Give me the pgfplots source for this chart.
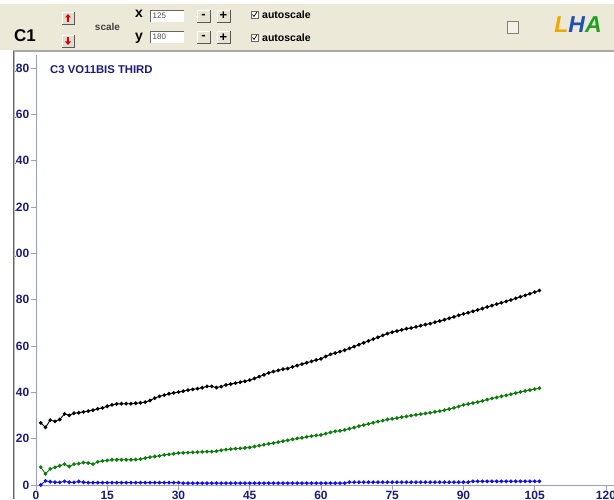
\documentclass[border=0pt]{standalone}
\usepackage{pgfplots}
\pgfplotsset{compat=1.18}
\usepackage{fontspec}
\setmainfont{Liberation Sans}
\definecolor{hdr}{HTML}{ECE9D8}
\definecolor{axcol}{HTML}{9A9AE0}
\definecolor{navy}{HTML}{1C1C7A}
\definecolor{grn}{HTML}{0A7D0A}
\definecolor{blu}{HTML}{1010E8}
\definecolor{lorange}{HTML}{F0A800}
\definecolor{lblue}{HTML}{2050B0}
\definecolor{lgreen}{HTML}{20A020}
\begin{document}
\begin{tikzpicture}[x=1pt,y=1pt]
\clip (0,0) rectangle (614,499);
\fill[white] (0,0) rectangle (614,499);
% header band
\fill[hdr] (0,495) rectangle (614,449);
\draw[gray!70,line width=1.2pt] (13,448) -- (614,448);
\begin{axis}[
  at={(36pt,14pt)}, anchor=south west,
  scale only axis, width=578pt, height=430pt,
  xmin=0, xmax=121.7, ymin=0, ymax=185.7,
  axis lines*=left, axis line style={axcol, line width=0.8pt, -},
  tick align=outside, major tick length=5pt,
  tick style={axcol, line width=0.8pt},
  xtick={0,15,30,45,60,75,90,105,120},
  xticklabels={0,15,30,45,60,75,90,105,120},
  ytick={0,20,40,60,80,100,120,140,160,180},
  yticklabels={0,20,40,60,80,100,120,140,160,180},
  ticklabel style={font=\fontsize{12}{13}\selectfont\bfseries, text=navy},
  yticklabel style={inner sep=1.5pt},
  xticklabel style={inner sep=1pt},
  clip=false,
]
\addplot[black, line width=0.9pt, mark=*, mark size=1.4pt] coordinates {
(1,26.8)(2,24.9)(3,28)(4,27.5)(5,28.3)(6,30.7)(7,30.1)(8,31)(9,31.2)(10,31.6)
(11,31.9)(12,32.3)(13,32.9)(14,33.3)(15,34)(16,34.6)(17,35)(18,35.1)(19,35.1)(20,35.1)
(21,35.3)(22,35.5)(23,35.8)(24,36.5)(25,37.5)(26,38.3)(27,38.8)(28,39.4)(29,39.8)(30,40.1)
(31,40.5)(32,41)(33,41.3)(34,41.6)(35,42)(36,42.6)(37,42.6)(38,42.1)(39,42.5)(40,43.2)
(41,43.6)(42,44)(43,44.4)(44,44.8)(45,45.3)(46,46)(47,46.8)(48,47.6)(49,48.4)(50,49)
(51,49.5)(52,50)(53,50.3)(54,51)(55,51.6)(56,52.2)(57,52.8)(58,53.4)(59,54)(60,54.5)
(61,55.5)(62,56.4)(63,57)(64,57.6)(65,58.2)(66,59)(67,59.8)(68,60.6)(69,61.4)(70,62.2)
(71,63)(72,63.8)(73,64.6)(74,65.4)(75,66)(76,66.5)(77,67)(78,67.5)(79,67.8)(80,68.3)
(81,68.8)(82,69.3)(83,69.7)(84,70.3)(85,70.8)(86,71.4)(87,72)(88,72.6)(89,73.3)(90,73.9)
(91,74.4)(92,75)(93,75.6)(94,76.2)(95,76.9)(96,77.5)(97,78.1)(98,78.7)(99,79.3)(100,79.9)
(101,80.6)(102,81.3)(103,81.9)(104,82.6)(105,83.3)(106,84)
};
\addplot[grn, line width=0.9pt, mark=*, mark size=1.4pt] coordinates {
(1,7.7)(2,4.8)(3,7)(4,7.6)(5,8.3)(6,9)(7,8)(8,9)(9,9.2)(10,9.7)
(11,9.5)(12,9)(13,10)(14,10.4)(15,10.6)(16,10.9)(17,10.9)(18,10.9)(19,10.9)(20,10.9)
(21,11)(22,11.2)(23,11.6)(24,12)(25,12.3)(26,12.6)(27,13)(28,13.2)(29,13.5)(30,13.8)
(31,13.9)(32,14)(33,14.1)(34,14.2)(35,14.3)(36,14.4)(37,14.4)(38,14.6)(39,15)(40,15.3)
(41,15.5)(42,15.7)(43,15.8)(44,16)(45,16.2)(46,16.6)(47,17)(48,17.4)(49,17.8)(50,18.1)
(51,18.5)(52,18.9)(53,19.3)(54,19.7)(55,20.1)(56,20.4)(57,20.8)(58,21.1)(59,21.4)(60,21.6)
(61,22.2)(62,22.7)(63,23.2)(64,23.4)(65,23.8)(66,24.3)(67,24.8)(68,25.4)(69,25.9)(70,26.4)
(71,26.9)(72,27.4)(73,27.8)(74,28.3)(75,28.6)(76,28.9)(77,29.3)(78,29.6)(79,30)(80,30.3)
(81,30.6)(82,30.9)(83,31.2)(84,31.6)(85,31.9)(86,32.3)(87,32.8)(88,33.3)(89,33.9)(90,34.6)
(91,35)(92,35.4)(93,35.8)(94,36.3)(95,36.9)(96,37.4)(97,37.8)(98,38.3)(99,38.7)(100,39.2)
(101,39.7)(102,40.2)(103,40.6)(104,41)(105,41.4)(106,41.8)
};
\addplot[blu, line width=0.9pt, mark=*, mark size=1.4pt] coordinates {
(1,0)(2,1.8)(3,1.4)(4,1.2)(5,1.1)(6,1.6)(7,1.2)(8,1.1)(9,1.5)(10,1.2)
(11,1)(12,1)(13,1)(14,1)(15,1)(16,1)(17,1)(18,1)(19,1)(20,1)
(21,1)(22,1)(23,1)(24,1)(25,1)(26,1)(27,1)(28,1)(29,1)(30,1)
(31,0.8)(32,0.8)(33,0.8)(34,0.8)(35,0.8)(36,0.8)(37,0.8)(38,0.8)(39,0.8)(40,0.8)
(41,0.8)(42,0.8)(43,0.8)(44,0.8)(45,0.8)(46,0.8)(47,0.8)(48,0.8)(49,0.8)(50,0.8)
(51,0.8)(52,0.8)(53,0.8)(54,0.8)(55,0.8)(56,0.8)(57,0.8)(58,0.8)(59,0.8)(60,0.8)
(61,0.8)(62,0.8)(63,0.8)(64,0.8)(65,0.8)(66,1.2)(67,1.2)(68,1.2)(69,1.2)(70,1.2)
(71,1.2)(72,1.2)(73,1.2)(74,1.2)(75,1.2)(76,1.2)(77,1.2)(78,1.2)(79,1.2)(80,1.2)
(81,1.2)(82,1.2)(83,1.2)(84,1.2)(85,1.2)(86,1.2)(87,1.2)(88,1.2)(89,1.2)(90,1.2)
(91,1.2)(92,1.6)(93,1.6)(94,1.6)(95,1.6)(96,1.6)(97,1.6)(98,1.6)(99,1.6)(100,1.6)
(101,1.6)(102,1.6)(103,1.6)(104,1.6)(105,1.6)(106,1.6)
};
\end{axis}
% title
\node[anchor=west, text=navy, font=\fontsize{11.3}{13}\selectfont\bfseries, inner sep=0pt] at (50,429) {C3 VO11BIS THIRD};
% left panel border (hides clipped label digits)
\fill[white] (0,0) rectangle (12.5,447.5);
\fill[gray!55] (12.5,0) rectangle (14.5,448);
\draw[gray!80!black, line width=0.6pt] (12.8,0) -- (12.8,448);
% header widgets
\node[font=\fontsize{17}{17}\selectfont\bfseries, inner sep=0pt] at (25,463) {C1};
\foreach \yy/\dir in {481/1,458/-1}{
  \fill[hdr!90!gray] (62,\yy-6) rectangle (74,\yy+6);
  \draw[white, line width=0.6pt] (62,\yy-6) -- (62,\yy+6) -- (74,\yy+6);
  \draw[gray!70!black, line width=0.6pt] (62,\yy-6) -- (74,\yy-6) -- (74,\yy+6);
  \fill[red!85!black] (68,\yy+4*\dir) -- (65,\yy+0.5*\dir) -- (71,\yy+0.5*\dir) -- cycle;
  \fill[red!85!black] (67.2,\yy+0.8*\dir) rectangle (68.8,\yy-4*\dir);
}
\node[font=\fontsize{10}{11}\selectfont\bfseries, text=black!75, inner sep=0pt] at (107.5,472.5) {scale};
\node[font=\fontsize{14}{14}\selectfont\bfseries, inner sep=0pt] at (139,485) {x};
\node[font=\fontsize{14}{14}\selectfont\bfseries, inner sep=0pt] at (139,461) {y};
\foreach \yy/\txt in {483/125,461.5/180}{
  \fill[white] (150,\yy-6) rectangle (184,\yy+6);
  \draw[gray!80!black, line width=0.6pt] (150,\yy-6) -- (150,\yy+6) -- (184,\yy+6);
  \node[anchor=west, font=\fontsize{8}{9}\selectfont, text=black!70, inner sep=0pt] at (152.5,\yy+0.5) {\txt};
  \foreach \xx/\sym in {197/{-},217/{+}}{
    \fill[hdr!95!gray] (\xx,\yy-6) rectangle (\xx+13,\yy+6);
    \draw[white, line width=0.6pt] (\xx,\yy-6) -- (\xx,\yy+6) -- (\xx+13,\yy+6);
    \draw[gray!70!black, line width=0.6pt] (\xx,\yy-6) -- (\xx+13,\yy-6) -- (\xx+13,\yy+6);
    \node[font=\fontsize{13}{13}\selectfont\bfseries, inner sep=0pt] at (\xx+6.5,\yy) {\sym};
  }
}
\foreach \yy in {484,461}{
  \fill[white] (251,\yy-3) rectangle (258,\yy+4);
  \draw[gray!80!black, line width=0.5pt] (251,\yy-3) rectangle (258,\yy+4);
  \draw[black, line width=0.7pt] (252.5,\yy+0.5) -- (254,\yy-1.5) -- (256.8,\yy+2.8);
  \node[anchor=west, font=\fontsize{10.5}{11}\selectfont\bfseries, inner sep=0pt] at (262,\yy+0.5) {autoscale};
}
\fill[hdr!60!white] (507,466) rectangle (518,478);
\draw[gray, line width=0.6pt] (507,466) rectangle (518,478);
\node[font=\fontsize{23}{23}\selectfont\bfseries\itshape, inner sep=0pt] at (578,474)
  {\textcolor{lorange}{L}\textcolor{lblue}{H}\textcolor{lgreen}{A}};
\end{tikzpicture}
\end{document}
